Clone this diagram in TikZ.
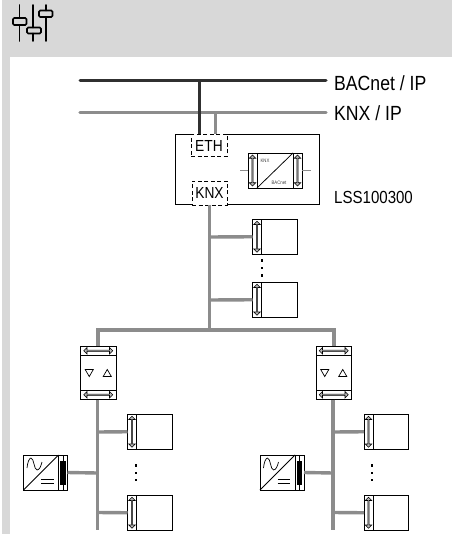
\documentclass[tikz,border=0pt]{standalone}
\usepackage{fontspec}
\setmainfont[FakeStretch=0.86]{Liberation Sans}
\usetikzlibrary{shapes.arrows,shapes.geometric}
\definecolor{hdr}{HTML}{D8D8D8}
\definecolor{busdark}{HTML}{303030}
\definecolor{busgray}{HTML}{8C8C8C}
\definecolor{arrfill}{HTML}{B8B8B8}
\tikzset{
  box/.style={draw=black,line width=.75pt,fill=white,inner sep=0pt,outer sep=0pt},
  darrow/.style={shape=double arrow,draw=black,line width=.6pt,fill=arrfill,inner sep=0pt,outer sep=0pt,
     double arrow head extend=1.3pt,double arrow head indent=0pt,minimum width=6.5pt},
  busK/.style={line width=3.4pt,busgray},
  busB/.style={line width=3pt,busdark},
  stub/.style={line width=1pt,busgray},
  tri/.style={draw=black,line width=.7pt,fill=white,regular polygon,regular polygon sides=3,inner sep=0pt,minimum size=9.5pt},
  dashbox/.style={draw=black,dash pattern=on 4pt off 2.5pt,line width=.75pt,fill=white,inner sep=0pt,outer sep=0pt},
  dot/.style={rectangle,fill=black,inner sep=0pt,minimum size=2.1pt},
  lbl/.style={inner sep=0pt,anchor=west,font=\fontsize{20.5}{22}\selectfont},
  tinytext/.style={inner sep=0pt,font=\fontsize{5}{6}\selectfont,text=black!75},
}
\newcommand{\device}[3]{%
  \node[box,minimum width=44.5pt,minimum height=35.5pt,anchor=north west] (#1) at (#2,#3) {};
  \node[box,minimum width=9pt,minimum height=35.5pt,anchor=north west] (#1s) at (#2,#3) {};
  \node[darrow,minimum height=31pt,rotate=90] (#1a) at (#1s.center) {};
}
\newcommand{\din}[3]{%
  \node[box,minimum width=35.5pt,minimum height=53.5pt,anchor=north west] (#1) at (#2,#3) {};
  \node[box,minimum width=35.5pt,minimum height=9.5pt,anchor=north] (#1t) at (#1.north) {};
  \node[box,minimum width=35.5pt,minimum height=9.5pt,anchor=south] (#1b) at (#1.south) {};
  \node[darrow,minimum height=29pt] (#1ta) at (#1t.center) {};
  \node[darrow,minimum height=29pt] (#1ba) at (#1b.center) {};
  \node[tri,shape border rotate=180] (#1d) at ([xshift=-9pt,yshift=.95pt]#1.center) {};
  \node[tri] (#1u) at ([xshift=9pt,yshift=-1.45pt]#1.center) {};
}
\newcommand{\psu}[3]{%
  \node[box,minimum width=44pt,minimum height=35pt,anchor=north west] (#1) at (#2,#3) {};
  \node[box,minimum width=9pt,minimum height=35pt,anchor=north east] (#1s) at (#1.north east) {};
  \draw[line width=.75pt] (#1.south west) -- (#1s.north west);
  \draw[line width=.6pt] (#1s.north) -- (#1s.south);
  \node[fill=black,inner sep=0pt,minimum width=5.5pt,minimum height=24pt] (#1k) at (#1s.center) {};
  \begin{scope}[shift={(#1.north west)},line width=.7pt]
    \draw (3.5,13) .. controls (4,8) and (5.5,3) .. (7.5,3) .. controls (10.5,3) and (10.5,15) .. (13.5,15) .. controls (16,15) and (17.5,11) .. (18.5,7);
    \draw (17.5,24.5) -- (30,24.5) (17.5,28.5) -- (30,28.5);
  \end{scope}
}
\begin{document}
\begin{tikzpicture}[x=1pt,y=-1pt]
\useasboundingbox (0,0) rectangle (452,534);
\fill[hdr] (2,0) rectangle (452,57);
\fill[hdr] (2,57) rectangle (10,534);
% icon
\begin{scope}[line width=1.6pt,line cap=round,rounded corners=1.2pt]
\coordinate (ia) at (19.5,5); \coordinate (ib) at (33,5); \coordinate (ic) at (46,5);
\draw (ia) -- (19.5,18) (19.5,25) -- (19.5,41);
\draw (13,18) rectangle (26.5,25);
\draw (ib) -- (33,27.5) (33,33.5) -- (33,41);
\draw (27,27.5) rectangle (41,33.5);
\draw (ic) -- (46,10.5) (46,17) -- (46,41);
\draw (39,10.5) rectangle (52.5,17);
\end{scope}
% backbone
\node[lbl] (bac) at (334,83) {BACnet / IP};
\node[lbl] (knxip) at (334,113.5) {KNX / IP};
\coordinate (b0) at (80,81); \coordinate (b1) at (326,81);
\coordinate (k0) at (80,112.5); \coordinate (k1) at (326,112.5);
\node[box,minimum width=144pt,minimum height=70.5pt,anchor=north west] (main) at (175,134) {};
\node[inner sep=0pt,anchor=west,font=\fontsize{17.5}{19}\selectfont] (lss) at (334,197.5) {LSS100300};
\draw[busK,line cap=round] (k0) -- (k1);
\draw[busK,line width=2.4pt] (215.5,112.5) -- (215.5,134);
\draw[busB,line cap=round] (b0) -- (b1);
\draw[busB] (199.5,81) -- (199.5,134);
\node[dashbox,minimum width=36pt,minimum height=22pt,anchor=north west,font=\fontsize{16}{18}\selectfont] (eth) at (191,134.5) {ETH};
\node[dashbox,minimum width=35pt,minimum height=24pt,anchor=north west,font=\fontsize{16}{18}\selectfont] (knx) at (192,181) {KNX};
% converter
\node[box,minimum width=54pt,minimum height=35pt,anchor=north west] (conv) at (248,153) {};
\node[box,minimum width=9pt,minimum height=35pt,anchor=north west] (convl) at (248,153) {};
\node[box,minimum width=9pt,minimum height=35pt,anchor=north east] (convr) at (302,153) {};
\draw[line width=.75pt] (convl.south east) -- (convr.north west);
\node[darrow,minimum height=31pt,rotate=90] (convla) at (convl.center) {};
\node[darrow,minimum height=31pt,rotate=90] (convra) at (convr.center) {};
\node[tinytext] (tk) at (265,161) {KNX};
\node[tinytext] (tb) at (279,183) {BACnet};
\coordinate (sl) at (240,170.5); \coordinate (sr) at (311,170.5);
\draw[stub] (sl) -- (convl.west);
\draw[stub] (convr.east) -- (sr);
% upper KNX line
\device{d1}{252.5}{219}
\device{d2}{252.5}{282}
\coordinate (j0) at (209.5,330);
\coordinate (j1) at (209.5,237);
\coordinate (j2) at (209.5,300);
\draw[busK] (knx.south -| j0) -- (j0);
\draw[busK] (j1) -- (d1s.west);
\draw[busK] (j2) -- (d2s.west);
\node[dot] (p1) at (262,260.5) {};
\node[dot] (p2) at (262,268) {};
\node[dot] (p3) at (262,275.5) {};
% main distribution
\coordinate (hl) at (98,330); \coordinate (hr) at (334,330);
\draw[busK,line cap=rect] (hl) -- (hr);
\din{lc}{80.5}{346}
\din{rc}{316}{346}
\draw[busK] (hl) -- (lc.north -| hl);
\draw[busK] (hr) -- (rc.north -| hr);
% left segment
\device{ld1}{127.5}{414}
\device{ld2}{127.5}{495}
\psu{lp}{23.5}{455}
\coordinate (le) at (97.5,530);
\coordinate (lj1) at (97.5,432); \coordinate (lj2) at (97.5,512.5); \coordinate (lj3) at (97.5,473);
\draw[busK] (lc.south -| le) -- (le);
\draw[busK] (lj1) -- (ld1s.west);
\draw[busK] (lj2) -- (ld2s.west);
\draw[busK] (lp.east) -- (lj3);
\node[dot] (lp1) at (136,465.5) {};
\node[dot] (lp2) at (136,473) {};
\node[dot] (lp3) at (136,480) {};
% right segment
\device{rd1}{364}{414}
\device{rd2}{364}{495}
\psu{rp}{260}{455}
\coordinate (re) at (333,530);
\coordinate (rj1) at (333,432); \coordinate (rj2) at (333,512.5); \coordinate (rj3) at (333,473);
\draw[busK] (rc.south -| re) -- (re);
\draw[busK] (rj1) -- (rd1s.west);
\draw[busK] (rj2) -- (rd2s.west);
\draw[busK] (rp.east) -- (rj3);
\node[dot] (rp1) at (372,465.5) {};
\node[dot] (rp2) at (372,473) {};
\node[dot] (rp3) at (372,480) {};
\end{tikzpicture}
\end{document}
